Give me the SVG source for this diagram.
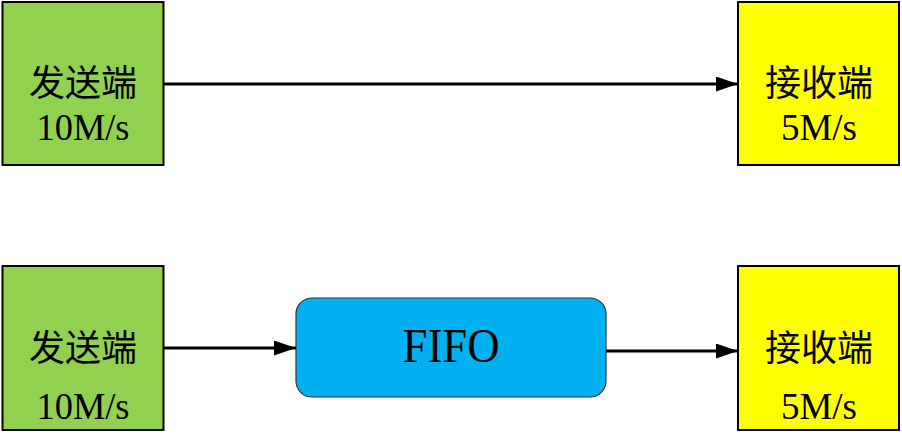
<svg xmlns="http://www.w3.org/2000/svg" width="902" height="445" viewBox="0 0 902 445">
<defs>
<marker id="arr" markerUnits="userSpaceOnUse" markerWidth="22" markerHeight="16" refX="22" refY="7.5" orient="auto">
<path d="M0,0 L22,7.5 L0,15 Z" fill="#000"/>
</marker>
<style>
.box{stroke:#000;stroke-width:2}
.send{fill:#92D050}
.recv{fill:#FFFF00}
.fifo{fill:#00B0F0;stroke:#333;stroke-width:1.2}
.cn{font-family:"Noto Sans CJK SC","Liberation Serif",serif;font-size:36px;fill:#000}
.lat{font-family:"Liberation Serif","Noto Sans CJK SC",serif;font-size:37px;fill:#000}
.big{font-size:48px}
.conn{stroke:#000;stroke-width:3;fill:none}
</style>
</defs>
<rect width="902" height="445" fill="#fff"/>
<g id="sender-top">
<rect class="box send" x="2.5" y="2" width="161" height="163"/>
<text class="cn" x="83" y="96" text-anchor="middle">发送端</text>
<text class="lat" x="83" y="140" text-anchor="middle" textLength="93" lengthAdjust="spacingAndGlyphs">10M/s</text>
</g>
<g id="receiver-top">
<rect class="box recv" x="738" y="2" width="161" height="163"/>
<text class="cn" x="819" y="96" text-anchor="middle">接收端</text>
<text class="lat" x="819" y="140" text-anchor="middle" textLength="76" lengthAdjust="spacingAndGlyphs">5M/s</text>
</g>
<g id="sender-bottom">
<rect class="box send" x="2.5" y="266" width="161" height="164"/>
<text class="cn" x="83" y="361" text-anchor="middle">发送端</text>
<text class="lat" x="83" y="419" text-anchor="middle" textLength="93" lengthAdjust="spacingAndGlyphs">10M/s</text>
</g>
<g id="fifo">
<rect class="fifo" x="296" y="298" width="310" height="99" rx="16" ry="16"/>
<text class="lat big" x="451" y="362" text-anchor="middle" textLength="97" lengthAdjust="spacingAndGlyphs">FIFO</text>
</g>
<g id="receiver-bottom">
<rect class="box recv" x="738" y="266" width="161" height="164"/>
<text class="cn" x="819" y="361" text-anchor="middle">接收端</text>
<text class="lat" x="819" y="419" text-anchor="middle" textLength="76" lengthAdjust="spacingAndGlyphs">5M/s</text>
</g>
<g id="connectors">
<line class="conn" x1="164" y1="84" x2="738" y2="84" marker-end="url(#arr)"/>
<line class="conn" x1="164" y1="348" x2="296" y2="348" marker-end="url(#arr)"/>
<line class="conn" x1="606" y1="351" x2="738" y2="351" marker-end="url(#arr)"/>
</g>
</svg>
